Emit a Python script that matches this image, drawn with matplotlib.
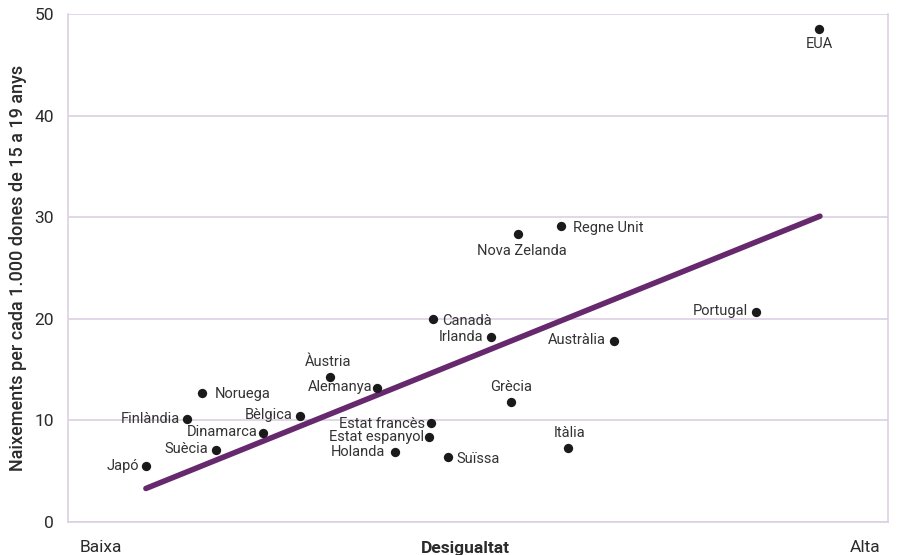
import matplotlib
matplotlib.use("Agg")
import matplotlib.pyplot as plt

countries = ["Japó", "Finlàndia", "Noruega", "Suècia", "Dinamarca", "Bèlgica", "Àustria",
             "Alemanya", "Estat francès", "Estat espanyol", "Holanda", "Suïssa", "Canadà",
             "Irlanda", "Nova Zelanda", "Regne Unit", "Grècia", "Itàlia", "Austràlia",
             "Portugal", "EUA"]
inequality = [9.5, 14.5, 16.3, 18.0, 23.8, 28.3, 32.0, 37.7, 44.3, 44.0, 39.9, 46.3, 44.5,
              51.6, 54.9, 60.1, 54.0, 61.0, 66.6, 83.9, 91.6]
births = [5.5, 10.1, 12.7, 7.1, 8.8, 10.4, 14.3, 13.2, 9.7, 8.4, 6.9, 6.4, 20.0,
          18.2, 28.3, 29.1, 11.8, 7.3, 17.8, 20.7, 48.5]
trend_x = [9.5, 91.7]
trend_y = [3.3, 30.1]
yticks = [0, 10, 20, 30, 40, 50]

# label placement: (dx, dy in pixels, ha, va)
place = {
    "Japó": (-7, 0, "right", "center"),
    "Finlàndia": (-7, 0, "right", "center"),
    "Noruega": (13, -1, "left", "center"),
    "Suècia": (-7, 1, "right", "center"),
    "Dinamarca": (-6, 1, "right", "center"),
    "Bèlgica": (-7, 1, "right", "center"),
    "Àustria": (-2, 8, "center", "bottom"),
    "Alemanya": (-5, 1, "right", "center"),
    "Estat francès": (-6, -1, "right", "center"),
    "Estat espanyol": (-5, 0, "right", "center"),
    "Holanda": (-10, 0, "right", "center"),
    "Suïssa": (9, -2, "left", "center"),
    "Canadà": (9, -2, "left", "center"),
    "Irlanda": (-8, 0, "right", "center"),
    "Nova Zelanda": (4, -10, "center", "top"),
    "Regne Unit": (12, -2, "left", "center"),
    "Grècia": (0, 8, "center", "bottom"),
    "Itàlia": (1, 8, "center", "bottom"),
    "Austràlia": (-8, 1, "right", "center"),
    "Portugal": (-8, 1, "right", "center"),
    "EUA": (0, -8, "center", "top"),
}

plt.rcParams['font.family'] = ['Roboto', 'DejaVu Sans']
grid_c = "#dcd0e2"
text_c = "#2b2b2b"

fig = plt.figure(figsize=(9.03, 5.55), dpi=100)
ax = fig.add_axes([68/903, 33/555, 820/903, 508/555])
ax.set_xlim(0, 100)
ax.set_ylim(0, 50)
ax.set_yticks(yticks)
ax.set_xticks([])
ax.yaxis.grid(True, color=grid_c, linewidth=1.2)
ax.set_axisbelow(True)
for s in ax.spines.values():
    s.set_color(grid_c)
    s.set_linewidth(1.2)
ax.spines['top'].set_visible(False)
ax.tick_params(axis='y', length=0, pad=10, labelsize=12.5, labelcolor=text_c)

ax.plot(trend_x, trend_y, color="#66296e", linewidth=4, solid_capstyle='round', zorder=2)
ax.scatter(inequality, births, s=45, color="#1a1a1a", zorder=3, linewidths=0)

for c, x, y in zip(countries, inequality, births):
    dx, dy, ha, va = place[c]
    ax.annotate(c, (x, y), xytext=(dx, dy), textcoords='offset pixels',
                ha=ha, va=va, fontsize=10.5, color="#333333", zorder=4)

ax.set_ylabel("Naixements per cada 1.000 dones de 15 a 19 anys", fontsize=13,
              color=text_c, fontweight="medium")
ax.yaxis.set_label_coords(-41/820, 0.5)

fig.text(80/903, 1 - 548/555, "Baixa", ha="left", va="center", fontsize=12.5, color=text_c)
fig.text(465/903, 1 - 548/555, "Desigualtat", ha="center", va="center", fontsize=12.5,
         color=text_c, fontweight="bold")
fig.text(880/903, 1 - 548/555, "Alta", ha="right", va="center", fontsize=12.5, color=text_c)

fig.savefig("out.png", dpi=100)
